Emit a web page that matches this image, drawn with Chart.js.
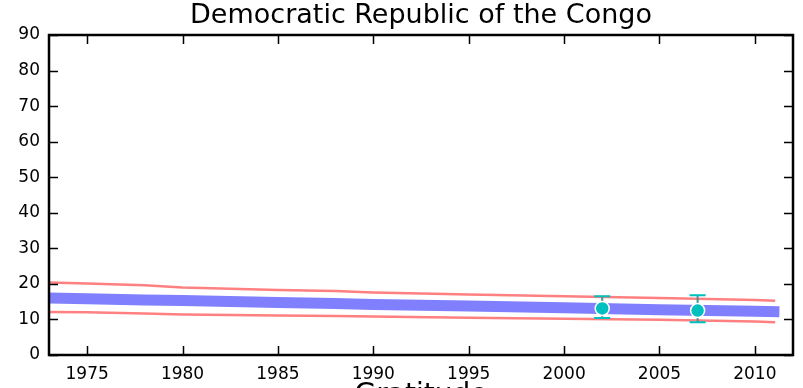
<!DOCTYPE html>
<html>
<head>
<meta charset="utf-8">
<script src="https://cdn.jsdelivr.net/npm/chart.js@4"></script>
<style>
html, body { margin: 0; padding: 0; overflow: hidden; background: #fff; width: 803px; height: 388px; }
</style>
</head>
<body>
<canvas id="chart" width="803" height="413"></canvas>
<script>
var titleText = 'Democratic Republic of the Congo';
var xLabel = 'Gratitude';

// model estimate and its band
var years    = [1973, 1975, 1978, 1980, 1985, 1988, 1990, 1995, 2000, 2005, 2010, 2011];
var estimate = [16.0, 15.8, 15.5, 15.3, 14.8, 14.5, 14.2, 13.8, 13.3, 12.7, 12.3, 12.2];
var upper    = [20.4, 20.1, 19.6, 19.0, 18.3, 18.0, 17.6, 17.0, 16.5, 16.0, 15.5, 15.3];
var lower    = [12.1, 12.0, 11.7, 11.4, 11.1, 11.0, 10.8, 10.5, 10.2, 9.9, 9.45, 9.25];

// survey points with error bars
var surveyYears  = [2002, 2007];
var surveyValues = [13.1, 12.5];
var surveyLow    = [10.4, 9.2];
var surveyHigh   = [16.5, 16.8];

var xTicks = [1975, 1980, 1985, 1990, 1995, 2000, 2005, 2010];
var yTicks = [0, 10, 20, 30, 40, 50, 60, 70, 80, 90];

function pairs(xs, ys) {
    return xs.map(function (x, i) { return { x: x, y: ys[i] }; });
}

Chart.defaults.font.family = 'DejaVu Sans';
Chart.defaults.color = '#000';

var errorBars = {
    id: 'errorBars',
    beforeDatasetDraw: function (chart, args) {
        if (args.index !== 0) return;
        var ctx = chart.ctx, xs = chart.scales.x, ys = chart.scales.y;
        ctx.save();
        surveyYears.forEach(function (yr, i) {
            var px = xs.getPixelForValue(yr);
            var top = ys.getPixelForValue(surveyHigh[i]);
            var bot = ys.getPixelForValue(surveyLow[i]);
            ctx.strokeStyle = '#4a9090';
            ctx.lineWidth = 2;
            ctx.beginPath();
            ctx.moveTo(px, top);
            ctx.lineTo(px, bot);
            ctx.stroke();
            ctx.strokeStyle = '#00bfbf';
            ctx.beginPath();
            ctx.moveTo(px - 8, top); ctx.lineTo(px + 8, top);
            ctx.moveTo(px - 8, bot); ctx.lineTo(px + 8, bot);
            ctx.stroke();
        });
        ctx.restore();
    }
};

var frame = {
    id: 'frame',
    afterDraw: function (chart) {
        var ctx = chart.ctx, a = chart.chartArea;
        var xs = chart.scales.x, ys = chart.scales.y;
        ctx.save();
        ctx.strokeStyle = '#000';
        ctx.lineWidth = 1.5;
        ctx.beginPath();
        xTicks.forEach(function (v) {
            var px = Math.round(xs.getPixelForValue(v)) + 0.5;
            ctx.moveTo(px, a.bottom); ctx.lineTo(px, a.bottom - 9);
            ctx.moveTo(px, a.top); ctx.lineTo(px, a.top + 9);
        });
        yTicks.forEach(function (v) {
            var py = Math.round(ys.getPixelForValue(v)) + 0.5;
            ctx.moveTo(a.left, py); ctx.lineTo(a.left + 9, py);
            ctx.moveTo(a.right, py); ctx.lineTo(a.right - 9, py);
        });
        ctx.stroke();
        ctx.lineWidth = 2.5;
        ctx.strokeRect(a.left, a.top, a.right - a.left, a.bottom - a.top);

        ctx.fillStyle = '#000';
        ctx.font = '27px "DejaVu Sans"';
        ctx.textAlign = 'center';
        ctx.textBaseline = 'alphabetic';
        ctx.fillText(titleText, (a.left + a.right) / 2, 23);
        ctx.restore();
    }
};

new Chart(document.getElementById('chart'), {
    type: 'line',
    data: {
        datasets: [{
            data: pairs(surveyYears, surveyValues),
            showLine: false,
            pointRadius: 7,
            pointHoverRadius: 7,
            pointBackgroundColor: '#00bfbf',
            pointBorderColor: '#ffffff',
            pointBorderWidth: 1.5,
            clip: 20
        }, {
            data: pairs(years, estimate),
            borderColor: '#8080ff',
            borderWidth: 11,
            borderCapStyle: 'square',
            pointRadius: 0,
            tension: 0,
            clip: 0
        }, {
            data: pairs(years, upper),
            borderColor: '#ff8080',
            borderWidth: 2.5,
            borderCapStyle: 'square',
            pointRadius: 0,
            tension: 0,
            clip: 0
        }, {
            data: pairs(years, lower),
            borderColor: '#ff8080',
            borderWidth: 2.5,
            borderCapStyle: 'square',
            pointRadius: 0,
            tension: 0,
            clip: 0
        }]
    },
    options: {
        responsive: false,
        animation: false,
        layout: { padding: { top: 35, right: 10, left: 0, bottom: 0 } },
        plugins: {
            legend: { display: false },
            title: { display: false },
            tooltip: { enabled: false }
        },
        scales: {
            x: {
                type: 'linear',
                min: 1973,
                max: 2012,
                grid: { display: false, drawTicks: false },
                border: { display: false },
                afterBuildTicks: function (s) { s.ticks = xTicks.map(function (v) { return { value: v }; }); },
                afterFit: function (s) { s.height = 58; },
                ticks: { font: { size: 17 }, padding: 9, maxRotation: 0, autoSkip: false,
                         callback: function (v) { return String(v); } },
                title: { display: true, text: xLabel, font: { size: 28 }, padding: 0, color: '#000' }
            },
            y: {
                min: 0,
                max: 90,
                grid: { display: false, drawTicks: false },
                border: { display: false },
                afterBuildTicks: function (s) { s.ticks = yTicks.map(function (v) { return { value: v }; }); },
                afterFit: function (s) { s.width = 49; },
                ticks: { font: { size: 17 }, padding: 9 }
            }
        }
    },
    plugins: [errorBars, frame]
});
</script>
</body>
</html>
